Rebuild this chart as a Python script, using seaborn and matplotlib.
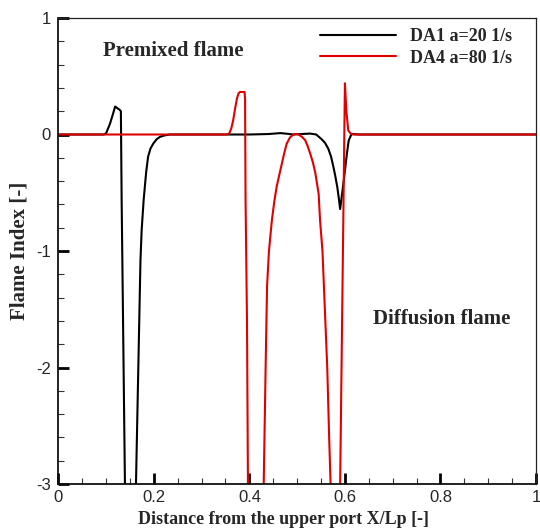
import matplotlib
matplotlib.use("Agg")
import matplotlib.pyplot as plt
import matplotlib.ticker as mticker
import numpy as np
import pandas as pd
import seaborn as sns

# ---------------- data ----------------
series_names = ["DA1 a=20 1/s", "DA4 a=80 1/s"]
series_colors = ["#000000", "#e00000"]

x_da1 = [0.0, 0.09, 0.095, 0.100, 0.108, 0.114, 0.119, 0.124, 0.129, 0.131,
         0.1326, 0.1395, 0.141, 0.161, 0.1626, 0.1675, 0.172, 0.1745, 0.1787,
         0.184, 0.188, 0.193, 0.199, 0.206, 0.213, 0.222, 0.234, 0.30, 0.40,
         0.44, 0.465, 0.48, 0.492, 0.51, 0.527, 0.540, 0.551, 0.558, 0.565,
         0.571, 0.576, 0.580, 0.584, 0.587, 0.590, 0.595, 0.600, 0.604, 0.608,
         0.614, 0.63, 1.0]
y_da1 = [0.0, 0.0, 0.0, 0.01, 0.09, 0.17, 0.24, 0.225, 0.21, 0.20,
         -0.56, -3.0, -4.0, -4.0, -3.0, -2.0, -1.08, -0.82, -0.56,
         -0.32, -0.19, -0.12, -0.077, -0.04, -0.02, -0.008, 0.0, 0.0, 0.0,
         0.004, 0.012, 0.006, 0.0, 0.004, 0.008, 0.0, -0.04, -0.07, -0.12,
         -0.19, -0.28, -0.36, -0.45, -0.54, -0.64, -0.48, -0.31, -0.17, -0.05,
         0.005, 0.0, 0.0]

x_da4 = [0.0, 0.352, 0.358, 0.362, 0.366, 0.370, 0.374, 0.377, 0.380, 0.390,
         0.391, 0.392, 0.395, 0.397, 0.399, 0.424, 0.430, 0.434, 0.437, 0.441,
         0.447, 0.452, 0.457, 0.463, 0.468, 0.473, 0.478, 0.485, 0.492, 0.498,
         0.503, 0.510, 0.517, 0.522, 0.527, 0.533, 0.538, 0.545, 0.548, 0.553,
         0.558, 0.563, 0.567, 0.570, 0.574, 0.586, 0.590, 0.5966, 0.600, 0.603,
         0.607, 0.612, 0.617, 0.63, 1.0]
y_da4 = [0.0, 0.0, 0.01, 0.05, 0.12, 0.22, 0.31, 0.35, 0.365, 0.365,
         0.30, -0.56, -1.6, -3.0, -4.0, -4.0, -3.0, -2.0, -1.3, -1.0,
         -0.74, -0.58, -0.45, -0.34, -0.25, -0.16, -0.08, -0.025, 0.0, 0.005,
         0.0, -0.02, -0.05, -0.10, -0.16, -0.24, -0.33, -0.51, -0.74, -1.0,
         -1.5, -2.0, -2.6, -3.0, -4.0, -4.0, -3.0, -0.74, 0.44, 0.20,
         0.035, 0.008, 0.0, 0.0, 0.0]

x_ticks = [0, 0.2, 0.4, 0.6, 0.8, 1.0]
x_tick_labels = ["0", "0.2", "0.4", "0.6", "0.8", "1"]
y_ticks = [-3, -2, -1, 0, 1]
y_tick_labels = ["-3", "-2", "-1", "0", "1"]

x_label = "Distance from the upper port X/Lp [-]"
y_label = "Flame Index [-]"
note_premixed = "Premixed flame"
note_diffusion = "Diffusion flame"

# ---------------- build table ----------------
df = pd.concat([
    pd.DataFrame({"x": x_da1, "y": y_da1, "case": series_names[0]}),
    pd.DataFrame({"x": x_da4, "y": y_da4, "case": series_names[1]}),
], ignore_index=True)

# ---------------- plotting ----------------
sns.set_style("white")
plt.rcParams["font.family"] = ["Liberation Sans", "DejaVu Sans"]

W, H = 540, 531
fig = plt.figure(figsize=(W / 100, H / 100), dpi=100)
ax = fig.add_axes([58.3 / W, 1 - 484 / H, (536 - 58.3) / W, (484 - 18) / H])

sns.lineplot(data=df, x="x", y="y", hue="case", hue_order=series_names,
             palette=dict(zip(series_names, series_colors)),
             estimator=None, sort=False, units="case", linewidth=1.5, ax=ax,
             legend=True)

ax.set_xlim(0, 1)
ax.set_ylim(-3, 1)

ax.xaxis.set_major_locator(mticker.FixedLocator(x_ticks))
ax.xaxis.set_major_formatter(mticker.FixedFormatter(x_tick_labels))
ax.yaxis.set_major_locator(mticker.FixedLocator(y_ticks))
ax.yaxis.set_major_formatter(mticker.FixedFormatter(y_tick_labels))
ax.xaxis.set_minor_locator(mticker.MultipleLocator(0.05))
ax.yaxis.set_minor_locator(mticker.MultipleLocator(0.2))

ax.tick_params(axis="both", which="major", direction="in", length=8, width=2.0,
               color="black", labelsize=12, top=False, right=False,
               bottom=True, left=True)
ax.tick_params(axis="both", which="minor", direction="in", length=4.5, width=0.8,
               color="#333333", top=False, right=False, bottom=True, left=True)
ax.tick_params(axis="x", which="major", pad=4.5)
ax.tick_params(axis="y", which="major", pad=5.5)

for side in ["left", "bottom"]:
    ax.spines[side].set_linewidth(1.3)
    ax.spines[side].set_color("#111111")
for side in ["top", "right"]:
    ax.spines[side].set_linewidth(0.9)
    ax.spines[side].set_color("#222222")

serif = ["Liberation Serif", "DejaVu Serif"]
ax.set_xlabel(x_label, fontfamily=serif, fontweight="bold", fontsize=13)
ax.xaxis.set_label_coords((284 - 58.3) / (536 - 58.3), -(519 - 484) / (484 - 18))
ax.xaxis.label.set_va("center")
ax.set_ylabel(y_label, fontfamily=serif, fontweight="bold", fontsize=15)
ax.yaxis.set_label_coords(-(58.3 - 20) / (536 - 58.3), 0.5)
ax.yaxis.label.set_va("center")

ax.text(0.094, 0.72, note_premixed, fontfamily=serif, fontweight="bold",
        fontsize=15, ha="left", va="center")
ax.text(0.659, -1.58, note_diffusion, fontfamily=serif, fontweight="bold",
        fontsize=15, ha="left", va="center")

handles, labels = ax.get_legend_handles_labels()
leg = ax.legend(handles, labels, loc="upper left",
                bbox_to_anchor=((320 - 58.3) / (536 - 58.3), (484 - 28) / (484 - 18)),
                frameon=False, handlelength=4.2, handletextpad=0.8,
                labelspacing=0.25, borderpad=0, borderaxespad=0,
                prop={"family": serif, "weight": "bold", "size": 13})
for ln in leg.get_lines():
    ln.set_linewidth(1.5)

fig.savefig("out.png", dpi=100)
